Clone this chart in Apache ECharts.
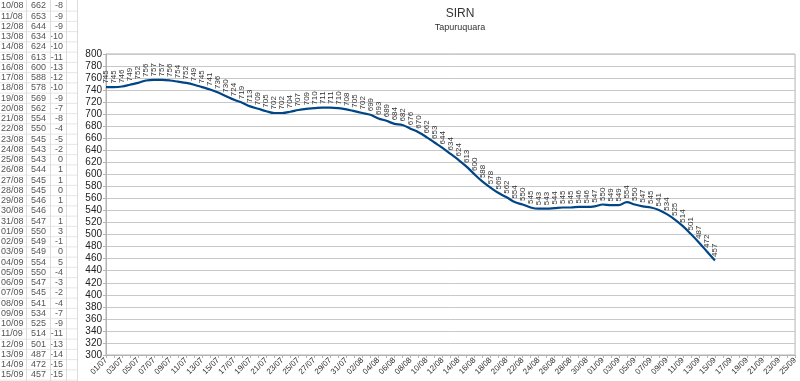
<!DOCTYPE html>
<html><head><meta charset="utf-8">
<script src="https://cdn.jsdelivr.net/npm/echarts@6/dist/echarts.min.js"></script>
<style>html,body{margin:0;padding:0;background:#fff}#c{width:800px;height:381px}</style>
</head><body><div id="c"></div>
<script>
const categories = ["01/07","02/07","03/07","04/07","05/07","06/07","07/07","08/07","09/07","10/07","11/07","12/07","13/07","14/07","15/07","16/07","17/07","18/07","19/07","20/07","21/07","22/07","23/07","24/07","25/07","26/07","27/07","28/07","29/07","30/07","31/07",
"01/08","02/08","03/08","04/08","05/08","06/08","07/08","08/08","09/08","10/08","11/08","12/08","13/08","14/08","15/08","16/08","17/08","18/08","19/08","20/08","21/08","22/08","23/08","24/08","25/08","26/08","27/08","28/08","29/08","30/08","31/08",
"01/09","02/09","03/09","04/09","05/09","06/09","07/09","08/09","09/09","10/09","11/09","12/09","13/09","14/09","15/09","16/09","17/09","18/09","19/09","20/09","21/09","22/09","23/09","24/09","25/09"];
const levels = [745,745,746,749,752,756,757,757,756,754,752,749,745,741,736,730,724,719,713,709,705,702,702,704,707,709,710,711,711,710,708,705,702,699,693,689,684,682,676,670,662,653,644,634,624,613,600,588,578,569,562,554,550,545,543,543,544,545,545,546,546,547,550,549,549,554,550,547,545,541,534,525,514,501,487,472,457];
const tableDates = ["10/08","11/08","12/08","13/08","14/08","15/08","16/08","17/08","18/08","19/08","20/08","21/08","22/08","23/08","24/08","25/08","26/08","27/08","28/08","29/08","30/08","31/08","01/09","02/09","03/09","04/09","05/09","06/09","07/09","08/09","09/09","10/09","11/09","12/09","13/09","14/09","15/09"];
const tableValues = [662,653,644,634,624,613,600,588,578,569,562,554,550,545,543,543,544,545,545,546,546,547,550,549,549,554,550,547,545,541,534,525,514,501,487,472,457];
const tableDiffs = [-8,-9,-9,-10,-10,-11,-13,-12,-10,-9,-7,-8,-4,-5,-2,0,1,1,0,1,0,1,3,-1,0,5,-4,-3,-2,-4,-7,-9,-11,-13,-14,-15,-15];
const yTicks = {min:300, max:800, interval:20};

const chart = echarts.init(document.getElementById('c'));
const FONT = '"Liberation Sans", Arial, sans-serif';
const graphics = [];
const rowH = 10.25, row0 = 6;
for (let i = 0; i < tableDates.length; i++) {
  const y = row0 + i * rowH;
  graphics.push({type:'text', x:1, y:y, style:{text:tableDates[i], font:'9px '+FONT, fill:'#555', textAlign:'left', textVerticalAlign:'middle'}});
  graphics.push({type:'text', x:46, y:y, style:{text:String(tableValues[i]), font:'9px '+FONT, fill:'#555', textAlign:'right', textVerticalAlign:'middle'}});
  graphics.push({type:'text', x:63, y:y, style:{text:String(tableDiffs[i]), font:'9px '+FONT, fill:'#555', textAlign:'right', textVerticalAlign:'middle'}});
  graphics.push({type:'line', shape:{x1:0,y1:y+rowH/2,x2:77,y2:y+rowH/2}, style:{stroke:'#e6e6e6', lineWidth:1}});
}
[26,50,66,77].forEach(x => graphics.push({type:'line', shape:{x1:x+0.5,y1:0,x2:x+0.5,y2:381}, style:{stroke:'#dcdcdc', lineWidth:1}}));

chart.setOption({
  animation:false,
  textStyle:{fontFamily:FONT},
  title:{text:'SIRN', subtext:'Tapuruquara', left:455, top:3, textAlign:'center', itemGap:3,
    textStyle:{fontSize:12, fontWeight:'normal', color:'#333', fontFamily:FONT},
    subtextStyle:{fontSize:9, color:'#333', fontFamily:FONT}},
  graphic: graphics,
  grid:{left:106, right:3, top:54, bottom:26, show:true, borderColor:'#b3b3b3', borderWidth:1},
  xAxis:{type:'category', data:categories, boundaryGap:false,
    axisLine:{lineStyle:{color:'#b3b3b3'}},
    axisTick:{show:true, interval:0, length:3, lineStyle:{color:'#b3b3b3'}},
    axisLabel:{interval:1, rotate:45, fontSize:8, color:'#333', margin:4, fontFamily:FONT},
    splitLine:{show:false}},
  yAxis:{type:'value', min:yTicks.min, max:yTicks.max, interval:yTicks.interval,
    axisLine:{show:true, lineStyle:{color:'#b3b3b3'}},
    axisTick:{show:true, length:3, lineStyle:{color:'#b3b3b3'}},
    axisLabel:{fontSize:10, color:'#222', margin:4, fontFamily:FONT},
    splitLine:{lineStyle:{color:'#c8c8c8', width:1}}},
  series:[{type:'line', data:levels, smooth:0.35, symbol:'circle', symbolSize:1, showSymbol:true, showAllSymbol:true,
    itemStyle:{color:'rgba(0,0,0,0)'},
    lineStyle:{color:'#004586', width:2.2},
    label:{show:true, position:'top', rotate:90, align:'left', verticalAlign:'middle', distance:3,
      fontSize:8, color:'#333', fontFamily:FONT},
    labelLayout:{hideOverlap:false}
  }]
});
</script></body></html>
